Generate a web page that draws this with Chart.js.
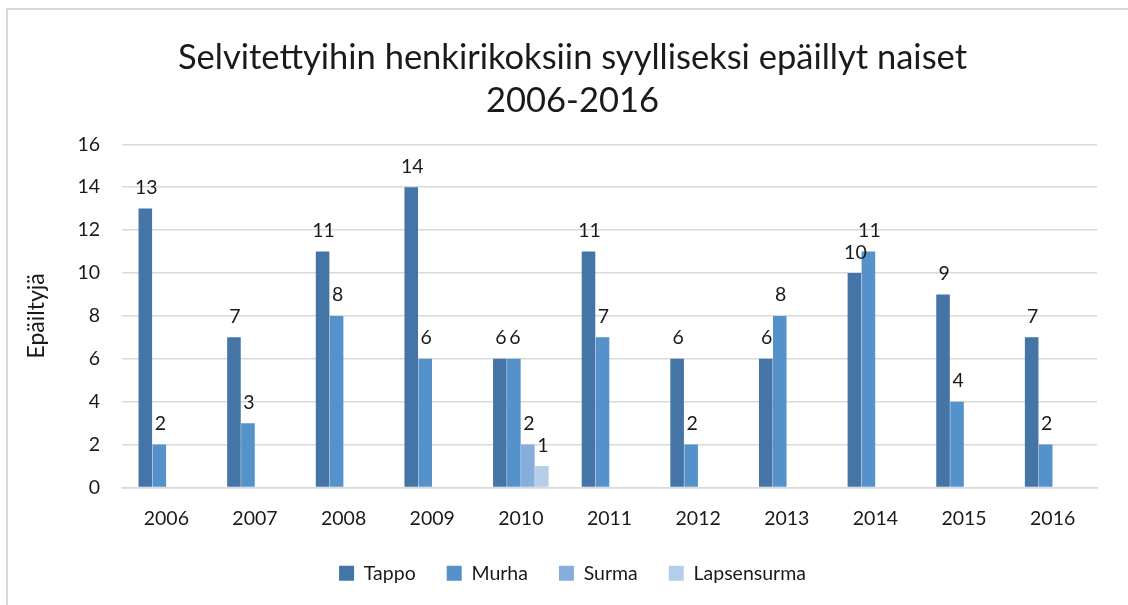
<!DOCTYPE html>
<html>
<head>
<meta charset="utf-8">
<script src="https://cdn.jsdelivr.net/npm/chart.js@4"></script>
<style>
  html, body { margin: 0; padding: 0; background: #fff; }
  #wrap { position: relative; width: 1128px; height: 605px; overflow: hidden; }
  #frame { position: absolute; left: 6px; top: 8px; width: 1200px; height: 700px; border-left: 2px solid #d9d9d9; border-top: 2px solid #d9d9d9; box-sizing: border-box; }
  #c { position: absolute; left: 0; top: 0; }
</style>
</head>
<body>
<div id="wrap">
  <div id="frame"></div>
  <canvas id="c" width="1128" height="605"></canvas>
</div>
<script>
const categories = ["2006","2007","2008","2009","2010","2011","2012","2013","2014","2015","2016"];
const tappo = [13, 7, 11, 14, 6, 11, 6, 6, 10, 9, 7];
const murha = [2, 3, 8, 6, 6, 7, 2, 8, 11, 4, 2];
const surma = [null, null, null, null, 2, null, null, null, null, null, null];
const lapsensurma = [null, null, null, null, 1, null, null, null, null, null, null];
const seriesNames = ["Tappo", "Murha", "Surma", "Lapsensurma"];
const titleLines = ["Selvitettyihin henkirikoksiin syylliseksi epäillyt naiset", "2006-2016"];
const yTitle = "Epäiltyjä";

const FONT = "Lato, 'Open Sans', sans-serif";
const TEXT = "#1a1a1a";

const valueLabels = {
  id: "valueLabels",
  afterDatasetsDraw(chart) {
    const ctx = chart.ctx;
    ctx.save();
    ctx.font = "19.5px " + FONT;
    ctx.fillStyle = TEXT;
    ctx.textAlign = "center";
    ctx.textBaseline = "bottom";
    chart.data.datasets.forEach((ds, i) => {
      const meta = chart.getDatasetMeta(i);
      meta.data.forEach((el, j) => {
        const v = ds.data[j];
        if (v === null || v === undefined) return;
        ctx.fillText(String(v), el.x + 1, el.y - 11);
      });
    });
    ctx.restore();
  }
};

new Chart(document.getElementById("c"), {
  type: "bar",
  data: {
    labels: categories,
    datasets: [
      { label: seriesNames[0], data: tappo, backgroundColor: "#4575A6" },
      { label: seriesNames[1], data: murha, backgroundColor: "#5592CB" },
      { label: seriesNames[2], data: surma, backgroundColor: "#86AEDC" },
      { label: seriesNames[3], data: lapsensurma, backgroundColor: "#B6CDE9" }
    ]
  },
  options: {
    responsive: false,
    animation: false,
    devicePixelRatio: 1,
    layout: { padding: { left: 48, right: 31, top: 0, bottom: 12 } },
    datasets: {
      bar: { categoryPercentage: 0.632, barPercentage: 0.97, borderWidth: 0 }
    },
    plugins: {
      title: {
        display: true,
        text: titleLines,
        color: TEXT,
        font: { family: FONT, size: 34.5, weight: "normal", lineHeight: 1.25 },
        padding: { top: 36, bottom: 22 }
      },
      legend: {
        position: "bottom",
        labels: {
          color: TEXT,
          font: { family: FONT, size: 19.5 },
          boxWidth: 15,
          boxHeight: 15,
          padding: 31
        }
      },
      tooltip: { enabled: false }
    },
    scales: {
      x: {
        grid: { display: false, drawTicks: false },
        border: { display: true, color: "#d9d9d9", width: 1.5 },
        ticks: { color: TEXT, font: { family: FONT, size: 19.5 }, padding: 20 },
        afterFit(s) { s.height = 45; }
      },
      y: {
        min: 0, max: 16,
        ticks: { stepSize: 2, color: TEXT, font: { family: FONT, size: 19.5 }, padding: 22 },
        grid: { color: "#d9d9d9", lineWidth: 1.5, drawTicks: false },
        border: { display: false },
        title: { display: true, text: yTitle, color: TEXT, font: { family: FONT, size: 23 }, padding: { top: -25, bottom: 0 } },
        afterFit(s) { s.width = 74; }
      }
    }
  },
  plugins: [valueLabels]
});
</script>
</body>
</html>
